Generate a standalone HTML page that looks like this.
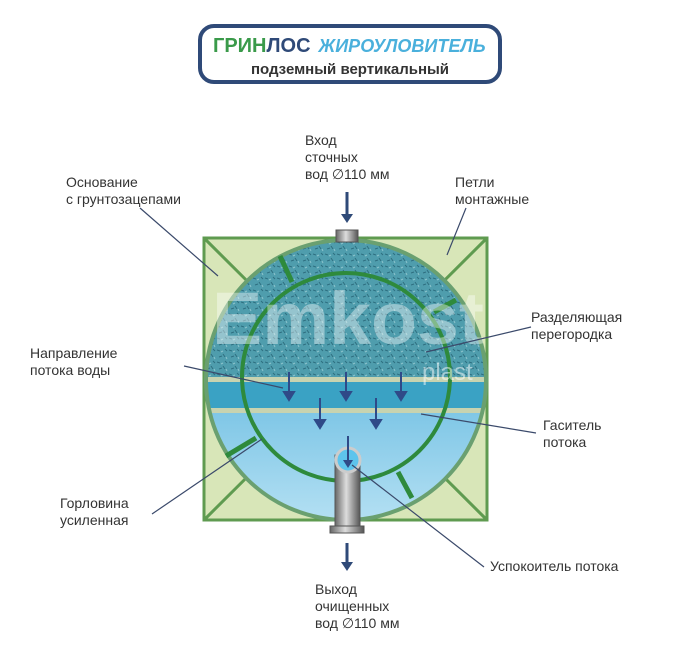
<!DOCTYPE html>
<html><head><meta charset="utf-8"><style>
html,body{margin:0;padding:0;background:#fff}
svg{display:block}
text{font-family:"Liberation Sans",sans-serif;font-size:14px;fill:#333}
</style></head><body>
<svg width="700" height="670" viewBox="0 0 700 670" xmlns="http://www.w3.org/2000/svg">
<defs>
<linearGradient id="lb" x1="0" y1="0" x2="0" y2="1"><stop offset="0" stop-color="#7ec6e6"/><stop offset="1" stop-color="#b8e2f4"/></linearGradient>
<linearGradient id="pipe" x1="0" y1="0" x2="1" y2="0"><stop offset="0" stop-color="#666"/><stop offset=".45" stop-color="#ddd"/><stop offset="1" stop-color="#555"/></linearGradient>
<clipPath id="cc"><circle cx="346" cy="380" r="140"/></clipPath>
<pattern id="tex" width="12" height="12" patternUnits="userSpaceOnUse"><rect width="12" height="12" fill="#4f9dad"/><path d="M1 2l3 1M7 6l2 3M3 9l3-1M9 1l2 2" stroke="#2e6f80" stroke-width="1"/><path d="M5 4l2-1M10 9l1 2" stroke="#8cc3cc" stroke-width="1"/></pattern>
</defs>
<rect x="200" y="26" width="300" height="56" rx="14" fill="#fff" stroke="#2f4a78" stroke-width="4"/>
<text x="213" y="52" style="font-size:20px;font-weight:bold"><tspan style="fill:#3a9a4a">ГРИН</tspan><tspan style="fill:#2f4a78">ЛОС</tspan><tspan font-style="italic" dx="8" style="font-size:18px;fill:#4ab0dc">ЖИРОУЛОВИТЕЛЬ</tspan></text>
<text x="350" y="74" text-anchor="middle" style="font-size:15px;font-weight:bold">подземный вертикальный</text>

<rect x="204" y="238" width="283" height="282" fill="#d8e6b8" stroke="#5f9b50" stroke-width="3"/>
<path d="M204 238L487 520M487 238L204 520" stroke="#5f9b50" stroke-width="3"/>
<g clip-path="url(#cc)">
<rect x="200" y="230" width="300" height="150" fill="url(#tex)"/>
<rect x="200" y="380" width="300" height="30" fill="#3aa2c4"/>
<rect x="200" y="410" width="300" height="120" fill="url(#lb)"/>
<rect x="200" y="377" width="300" height="5" fill="#c7d3b0"/>
<rect x="200" y="408" width="300" height="5" fill="#c7d3b0"/>
</g>
<circle cx="346" cy="380" r="140" fill="none" stroke="#6aa070" stroke-width="4"/>
<circle cx="346" cy="377" r="104" fill="none" stroke="#2e8a3c" stroke-width="4"/>
<path d="M280 256l12 26M456 300l-22 12M226 456l30-18M398 472l14 26" stroke="#2e8a3c" stroke-width="5"/>
<g fill="#2f4a88" stroke="#2f4a88" stroke-width="2">
<path d="M289 372v22M346 372v22M401 372v22M320 398v24M376 398v24M348 436v24" fill="none"/>
<path d="M284 392h10l-5 8zM341 392h10l-5 8zM396 392h10l-5 8zM315 420h10l-5 8zM371 420h10l-5 8z"/>
</g>
<rect x="336" y="230" width="22" height="12" fill="url(#pipe)" stroke="#555"/>
<rect x="335" y="455" width="25" height="75" fill="url(#pipe)" stroke="#555"/>
<rect x="330" y="526" width="34" height="7" fill="url(#pipe)" stroke="#555"/>
<circle cx="348" cy="460" r="12" fill="#5ec4ec" stroke="#ccc" stroke-width="3"/>
<path d="M348 442v20" stroke="#2f4a88" stroke-width="2"/><path d="M343 460h10l-5 8z" fill="#2f4a88"/>
<text x="348" y="344" text-anchor="middle" textLength="272" lengthAdjust="spacingAndGlyphs" style="font-size:74px;font-weight:bold;fill:#fff;fill-opacity:.4">Emkost</text>
<text x="422" y="380" style="font-size:24px;fill:#fff;fill-opacity:.5">plast</text>

<path d="M347 192v25" stroke="#2f4a78" stroke-width="3"/><path d="M341 214h12l-6 9z" fill="#2f4a78"/>
<path d="M347 543v22" stroke="#2f4a78" stroke-width="3"/><path d="M341 562h12l-6 9z" fill="#2f4a78"/>
<g stroke="#3b4a6b" stroke-width="1.2" fill="none">
<path d="M140 208L218 276M466 208L447 255M531 327L426 352M184 366L283 388M536 433L421 414M152 514L262 439M484 567L352 465"/>
</g>
<text x="305" y="145">Вход</text><text x="305" y="162">сточных</text><text x="305" y="179">вод ∅110 мм</text>
<text x="66" y="187">Основание</text><text x="66" y="204">с грунтозацепами</text>
<text x="455" y="187">Петли</text><text x="455" y="204">монтажные</text>
<text x="531" y="322">Разделяющая</text><text x="531" y="339">перегородка</text>
<text x="30" y="358">Направление</text><text x="30" y="375">потока воды</text>
<text x="543" y="430">Гаситель</text><text x="543" y="447">потока</text>
<text x="60" y="508">Горловина</text><text x="60" y="525">усиленная</text>
<text x="490" y="571">Успокоитель потока</text>
<text x="315" y="594">Выход</text><text x="315" y="611">очищенных</text><text x="315" y="628">вод ∅110 мм</text>
</svg>
</body></html>
